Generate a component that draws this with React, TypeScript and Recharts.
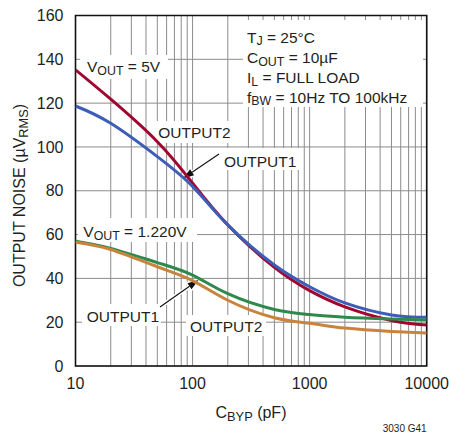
import React from 'react';
import {
  LineChart, Line, XAxis, YAxis, CartesianGrid, ReferenceArea, Customized,
} from 'recharts';

// ---- data ----
const cbyp5V = [10, 20, 50, 100, 200, 500, 1000, 2000, 5000, 10000];
const output2_5V = [135.2, 121.8, 102.4, 83.5, 64.4, 45, 34.4, 27, 20.8, 18.7];
const output1_5V = [118.7, 110.8, 95.6, 82, 64.4, 46.1, 36.2, 28.8, 23.3, 22.2];

const cbyp1220 = [10, 20, 50, 100, 200, 500, 1000, 2000, 5000, 10000];
const output1_1220 = [57, 53.7, 47.2, 41.5, 33, 25.8, 23.5, 22.3, 21.5, 21];
const output2_1220 = [56.5, 53.2, 45.3, 39, 30, 22, 19.5, 17.3, 15.8, 15.1];

const xGridTicks = [
  10, 20, 30, 40, 50, 60, 70, 80, 90,
  100, 200, 300, 400, 500, 600, 700, 800, 900,
  1000, 2000, 3000, 4000, 5000, 6000, 7000, 8000, 9000,
  10000,
];
const xTickLabels = [10, 100, 1000, 10000];
const yTicks = [0, 20, 40, 60, 80, 100, 120, 140, 160];

const toPoints = (xs: number[], ys: number[]) => xs.map((x, i) => ({ x, y: ys[i] }));

const COLORS = {
  out2_5V: '#a0062f',
  out1_5V: '#3d5db6',
  out1_1220: '#2e8a4c',
  out2_1220: '#c8843c',
};

const FONT = "'Liberation Sans', Arial, Helvetica, sans-serif";
const TXT = '#231f20';

const SubText = ({ x, y, parts, size = 15.5, anchor = 'start' }: any) => (
  <text x={x} y={y} fontSize={size} fill={TXT} fontFamily={FONT} textAnchor={anchor} style={{ whiteSpace: 'pre' }}>
    {parts.map((p: any, i: number) => {
      const prevSub = i > 0 && parts[i - 1].sub;
      let dy = 0;
      if (p.sub && !prevSub) dy = 2.5;
      if (!p.sub && prevSub) dy = -2.5;
      return (
        <tspan key={i} dy={dy} fontSize={p.sub ? size * 0.8 : size}>{p.t}</tspan>
      );
    })}
  </text>
);

const Arrow = ({ x1, y1, x2, y2 }: any) => {
  const a = Math.atan2(y2 - y1, x2 - x1);
  const L = 11, W = 3.6;
  const bx = x2 - L * Math.cos(a), by = y2 - L * Math.sin(a);
  const px = -Math.sin(a) * W, py = Math.cos(a) * W;
  const head = `${x2},${y2} ${bx + px},${by + py} ${bx - px},${by - py}`;
  return (
    <g>
      <line x1={x1} y1={y1} x2={bx} y2={by} stroke="#fff" strokeWidth={4} />
      <polygon points={head} fill="#fff" stroke="#fff" strokeWidth={3} strokeLinejoin="round" />
      <line x1={x1} y1={y1} x2={bx} y2={by} stroke="#111" strokeWidth={1.1} />
      <polygon points={head} fill="#111" />
    </g>
  );
};

const Overlay = () => (
  <g>
    {/* white label boxes */}
    <rect x={80} y={55} width={88} height={24} fill="#fff" />
    <rect x={243} y={20} width={180} height={87} fill="#fff" />
    <rect x={154} y={121} width={80} height={22} fill="#fff" />
    <rect x={220} y={148} width={82} height={22} fill="#fff" />
    <rect x={78} y={218} width={119} height={24} fill="#fff" />
    <rect x={82} y={304} width={79} height={22} fill="#fff" />
    <rect x={186} y={315} width={80} height={21} fill="#fff" />

    <SubText x={87} y={72} parts={[{ t: 'V' }, { t: 'OUT', sub: true }, { t: ' = 5V' }]} />
    <SubText x={247} y={42.7} parts={[{ t: 'T' }, { t: 'J', sub: true }, { t: ' = 25°C' }]} />
    <SubText x={247} y={63} parts={[{ t: 'C' }, { t: 'OUT', sub: true }, { t: ' = 10µF' }]} />
    <SubText x={247} y={83.3} parts={[{ t: 'I' }, { t: 'L', sub: true }, { t: ' = FULL LOAD' }]} />
    <SubText x={247} y={102.7} parts={[{ t: 'f' }, { t: 'BW', sub: true }, { t: ' = 10Hz TO 100kHz' }]} />
    <SubText x={158.3} y={138.3} parts={[{ t: 'OUTPUT2' }]} />
    <SubText x={224} y={166.7} parts={[{ t: 'OUTPUT1' }]} />
    <SubText x={83.3} y={237.3} parts={[{ t: 'V' }, { t: 'OUT', sub: true }, { t: ' = 1.220V' }]} />
    <SubText x={86.7} y={321.7} parts={[{ t: 'OUTPUT1' }]} />
    <SubText x={190} y={331.7} parts={[{ t: 'OUTPUT2' }]} />

    <Arrow x1={219} y1={154} x2={183} y2={178.5} />
    <Arrow x1={160} y1={307} x2={198.5} y2={280} />

    {/* axis titles */}
    <SubText x={251} y={418} size={16} anchor="middle" parts={[{ t: 'C' }, { t: 'BYP', sub: true }, { t: ' (pF)' }]} />
    <g transform="translate(25,195.5) rotate(-90)">
      <SubText x={0} y={0} size={16} anchor="middle" parts={[{ t: 'OUTPUT NOISE (µV' }, { t: 'RMS', sub: true }, { t: ')' }]} />
    </g>
    <text x={426.7} y={432.3} fontSize={10} fill={TXT} fontFamily={FONT} textAnchor="end">3030 G41</text>
  </g>
);

export default function App() {
  const tickStyle = { fontSize: 16, fill: TXT, fontFamily: FONT };
  return (
    <div style={{ position: 'absolute', left: 0, top: 0, background: '#fff' }}>
      <LineChart
        width={449}
        height={434}
        margin={{ top: 15.5, right: 22.3, bottom: 38, left: 15.5 }}
      >
        <CartesianGrid stroke="#8c8c8c" strokeWidth={1} />
        <XAxis
          dataKey="x"
          type="number"
          scale="log"
          domain={[10, 10000]}
          ticks={xGridTicks}
          interval={0}
          allowDataOverflow
          tickFormatter={(v: number) => (xTickLabels.includes(v) ? String(v) : '')}
          tickLine={false}
          axisLine={false}
          tickMargin={6}
          height={30}
          tick={tickStyle}
        />
        <YAxis
          type="number"
          domain={[0, 160]}
          ticks={yTicks}
          interval={0}
          tickLine={false}
          axisLine={false}
          tickMargin={6}
          width={60}
          tick={tickStyle}
        />
        <Line data={toPoints(cbyp5V, output2_5V)} dataKey="y" type="natural" stroke={COLORS.out2_5V} strokeWidth={3} dot={false} isAnimationActive={false} />
        <Line data={toPoints(cbyp5V, output1_5V)} dataKey="y" type="natural" stroke={COLORS.out1_5V} strokeWidth={3} dot={false} isAnimationActive={false} />
        <Line data={toPoints(cbyp1220, output1_1220)} dataKey="y" type="natural" stroke={COLORS.out1_1220} strokeWidth={3} dot={false} isAnimationActive={false} />
        <Line data={toPoints(cbyp1220, output2_1220)} dataKey="y" type="natural" stroke={COLORS.out2_1220} strokeWidth={3} dot={false} isAnimationActive={false} />
        <ReferenceArea x1={10} x2={10000} y1={0} y2={160} fill="none" stroke="#111" strokeWidth={1.6} fillOpacity={0} />
        <Customized component={<Overlay />} />
      </LineChart>
    </div>
  );
}
